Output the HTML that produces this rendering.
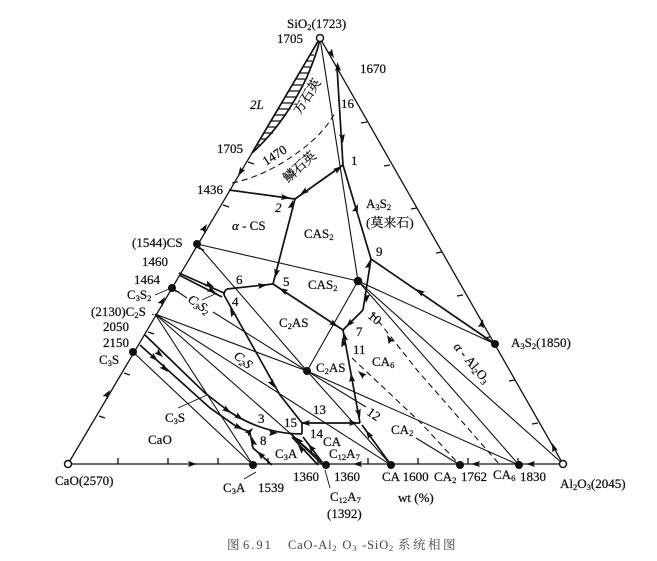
<!DOCTYPE html>
<html><head><meta charset="utf-8"><style>
html,body{margin:0;padding:0;background:#fff}
svg{display:block}
text{font-family:"Liberation Serif","Noto Serif CJK SC",serif;font-size:13px;fill:#111;stroke:#111;stroke-width:.25}
.s{font-size:8.5px}
.c{fill:#444;stroke:none;font-size:12.5px}
</style></head><body>
<svg width="657" height="561" viewBox="0 0 657 561" xmlns="http://www.w3.org/2000/svg">
<defs>
<marker id="a" markerWidth="10" markerHeight="7" refX="9" refY="3" orient="auto" markerUnits="userSpaceOnUse"><path d="M0 0L9 3L0 6L1.5 3Z" fill="#111"/></marker>
</defs>
<!-- triangle -->
<g fill="none" stroke="#111" stroke-width="1.3">
<path d="M320 38L68 464L563 464Z"/>
<path d="M118 464v-6M168 464v-6M218 464v-6M268 464v-6M318 464v-6M368 464v-6M418 464v-6M468 464v-6M518 464v-6"/>
<path d="M99 416l6 2M124 373l6 2M148 332l6 2M173 290l6 2M198 248l6 2M223 205l6 2M248 162l6 2"/>
<path d="M538 423l-6 1M515 380l-6 1M490 337l-6 1M463 295l-6 1M442 252l-6 1M417 208l-6 1M390 165l-6 1M367 122l-6 1"/>
</g>
<!-- thin tie lines -->
<g fill="none" stroke="#111" stroke-width="1.1">
<path d="M320 38L358 281"/>
<path d="M197 244L358 281"/>
<path d="M197 244L307 371"/>
<path d="M358 281L307 371"/>
<path d="M358 281L495 344"/>
<path d="M358 281L519 465"/>
<path d="M358 281L563 464"/>
<path d="M172 288L187 298M213 312L307 371"/>
<path d="M155 314L307 371"/>
<path d="M155 314L391 465"/>
<path d="M155 314L326 465"/>
<path d="M155 314L253 465"/>
<path d="M133 352L253 465"/>
<path d="M307 371L391 465"/>
<path d="M307 371L519 465"/>
<path d="M307 371L366 407M416 438L460 465"/>
</g>
<!-- dashed -->
<g fill="none" stroke="#111" stroke-width="1.1" stroke-dasharray="6 4">
<path d="M232 183C258 178 285 163 305 147C320 135 328 125 335 113"/>
<path d="M372 313L417 370L500 465"/>
<path d="M352 358L420 422L458 463"/>
</g>
<!-- lens -->
<path d="M320 38L252 153C270 137 290 112 307 77C313 62 318 50 320 38Z" fill="#fff" stroke="#111" stroke-width="1.7"/>
<g stroke="#111" stroke-width="1.2">
<path d="M310 55H314M306 61H312M303 67H310M299 73H308M296 79H305M292 85H302M289 91H299M285 97H296M282 103H293M278 109H290.5M274 115H286M271 121H281M267 127H276M264 133H273M260 139H266M257 145H261"/>
</g>
<!-- heavy boundaries -->
<g fill="none" stroke="#111" stroke-width="1.7">
<path d="M337 67L343 165"/>
<path d="M343 165L371 259"/>
<path d="M343 165L295 199"/>
<path d="M229 190L295 199"/>
<path d="M295 199L273 284"/>
<path d="M227 289L273 284"/>
<path d="M179 273L224 293"/>
<path d="M179 275L222 297"/>
<path d="M227 289Q224 291 224 295"/>
<path d="M224 295L280 395L302 423"/>
<path d="M273 284L343 330"/>
<path d="M371 259L363 310"/>
<path d="M363 310L343 330"/>
<path d="M371 259L495 344"/>
<path d="M343 330L360 423"/>
<path d="M302 423L360 423"/>
<path d="M391 465L362 425"/>
<path d="M302 423L302 434"/>
<path d="M145 335L205 393L227 410Q262 434 302 434"/>
<path d="M140 345L210 408L237 427L250 432"/>
<path d="M250 433L253 448L272 465"/>
<path d="M290 433L323 465"/>
<path d="M292 437L318 465"/>
<path d="M303 437L322 462"/>
</g>
<!-- arrows: start -> tip -->
<g fill="none" stroke="none">
<path d="M185 464H197" marker-end="url(#a)"/>
<path d="M105 398L110 390" marker-end="url(#a)"/>
<path d="M160 305L165 297" marker-end="url(#a)"/>
<path d="M202 232L207 224" marker-end="url(#a)"/>
<path d="M243 168L238 176" marker-end="url(#a)"/>
<path d="M328 48L334 58" marker-end="url(#a)"/>
<path d="M338 70L337.4 62" marker-end="url(#a)"/>
<path d="M342 135L343 143" marker-end="url(#a)"/>
<path d="M334 172L342 166" marker-end="url(#a)"/>
<path d="M308 189L300 195" marker-end="url(#a)"/>
<path d="M281 197L290 198" marker-end="url(#a)"/>
<path d="M291 208L293 200" marker-end="url(#a)"/>
<path d="M277 270L275 278" marker-end="url(#a)"/>
<path d="M258 286L267 285" marker-end="url(#a)"/>
<path d="M205 283L214 287" marker-end="url(#a)"/>
<path d="M207 288L216 293" marker-end="url(#a)"/>
<path d="M234 316L230 308" marker-end="url(#a)"/>
<path d="M270 380L275 388" marker-end="url(#a)"/>
<path d="M286 292L279 288" marker-end="url(#a)"/>
<path d="M331 322L338 327" marker-end="url(#a)"/>
<path d="M355 212L358 204" transform="translate(0 0)" marker-end="url(#a)"/>
<path d="M368 268L370 260" marker-end="url(#a)"/>
<path d="M367 295L366 303" marker-end="url(#a)"/>
<path d="M352 321L346 327" marker-end="url(#a)"/>
<path d="M345 340L343.5 332" marker-end="url(#a)"/>
<path d="M344 346L342 338" marker-end="url(#a)"/>
<path d="M352 381L351 373" marker-end="url(#a)"/>
<path d="M358 410L360 418" marker-end="url(#a)"/>
<path d="M365 377L358 371" marker-end="url(#a)"/>
<path d="M392 344L387 335" marker-end="url(#a)"/>
<path d="M423 294L416 289" marker-end="url(#a)"/>
<path d="M481 327L483 319" marker-end="url(#a)" />
<path d="M555 451L552 443" marker-end="url(#a)"/>
<path d="M309 423L301 423" marker-end="url(#a)"/>
<path d="M350 423L358 423" marker-end="url(#a)"/>
<path d="M371 438L366 430" marker-end="url(#a)"/>
<path d="M270 433L278 433" marker-end="url(#a)"/>
<path d="M156 351L163 357" marker-end="url(#a)"/>
<path d="M151 355L158 361" marker-end="url(#a)"/>
<path d="M161 365L168 372" marker-end="url(#a)"/>
<path d="M224 408L231 413" marker-end="url(#a)"/>
<path d="M236 415L243 420" marker-end="url(#a)"/>
<path d="M236 426L243 429" marker-end="url(#a)"/>
<path d="M247 434L253 428" marker-end="url(#a)"/>
<path d="M254 445L252 437" marker-end="url(#a)"/>
<path d="M263 457L257 451" marker-end="url(#a)"/>
<path d="M314 451L308 444" marker-end="url(#a)"/>
<path d="M301 443L295 437" marker-end="url(#a)"/>
<path d="M304 452L298 445" marker-end="url(#a)"/>
<path d="M362 464H353" marker-end="url(#a)"/>
<path d="M480 464H471" marker-end="url(#a)"/>
<path d="M535 464H526" marker-end="url(#a)"/>
</g>
<!-- leaders -->
<g stroke="#111" stroke-width=".9" fill="none">
<path d="M155 295L169 289M202 300L217 293M178 408L207 395M244 479L256 472M325 470L330 488M152 314L154 315"/>
</g>
<!-- nodes -->
<g fill="#111">
<circle cx="197" cy="244" r="4"/><circle cx="172" cy="288" r="4"/><circle cx="133" cy="352" r="4"/>
<circle cx="358" cy="281" r="4.3"/><circle cx="307" cy="371" r="4"/><circle cx="495" cy="344" r="4"/>
<circle cx="253" cy="465" r="4"/><circle cx="326" cy="465" r="4"/><circle cx="391" cy="465" r="4"/>
<circle cx="460" cy="465" r="4"/><circle cx="519" cy="465" r="4"/>
</g>
<g fill="#fff" stroke="#111" stroke-width="1.5">
<circle cx="320" cy="38" r="3.5"/><circle cx="68" cy="464" r="3.5"/><circle cx="563" cy="464" r="3.5"/>
</g>
<!-- labels -->
<text x="287" y="28">SiO<tspan class="s" dy="2">2</tspan><tspan dy="-2">(1723)</tspan></text>
<text x="277" y="43">1705</text>
<text x="360" y="73">1670</text>
<text x="341" y="108">16</text>
<text x="351" y="165">1</text>
<text x="250" y="109" font-style="italic">2L</text>
<text x="217" y="153">1705</text>
<text x="197" y="194">1436</text>
<text transform="translate(266 166) rotate(-33)">1470</text>
<text transform="translate(300 115) rotate(-57)">方石英</text>
<text transform="translate(288 183) rotate(-42)">鳞石英</text>
<text x="232" y="230"><tspan font-style="italic">α</tspan> - CS</text>
<text x="275" y="212" font-style="italic">2</text>
<text x="304" y="238">CAS<tspan class="s" dy="2">2</tspan></text>
<text x="366" y="208">A<tspan class="s" dy="2">3</tspan><tspan dy="-2">S</tspan><tspan class="s" dy="2">2</tspan></text>
<text x="366" y="227">(莫来石)</text>
<text x="376" y="256">9</text>
<text x="308" y="289">CAS<tspan class="s" dy="2">2</tspan></text>
<text x="132" y="247">(1544)CS</text>
<text x="142" y="266">1460</text>
<text x="134" y="284">1464</text>
<text x="127" y="299">C<tspan class="s" dy="2">3</tspan><tspan dy="-2">S</tspan><tspan class="s" dy="2">2</tspan></text>
<text x="91" y="316">(2130)C<tspan class="s" dy="2">2</tspan><tspan dy="-2">S</tspan></text>
<text x="103" y="331">2050</text>
<text x="103" y="347">2150</text>
<text x="99" y="364">C<tspan class="s" dy="2">3</tspan><tspan dy="-2">S</tspan></text>
<text x="236" y="284">6</text>
<text x="283" y="286">5</text>
<text x="232" y="306">4</text>
<text transform="translate(187 301) rotate(35)" font-style="italic">C<tspan class="s" dy="2">3</tspan><tspan dy="-2">S</tspan><tspan class="s" dy="2">2</tspan></text>
<text transform="translate(233 357) rotate(40)" font-style="italic">C<tspan class="s" dy="2">2</tspan><tspan dy="-2">S</tspan></text>
<text x="279" y="327">C<tspan class="s" dy="2">2</tspan><tspan dy="-2">AS</tspan></text>
<text x="316" y="372">C<tspan class="s" dy="2">2</tspan><tspan dy="-2">AS</tspan></text>
<text x="356" y="336">7</text>
<text transform="translate(367 317) rotate(40)">10</text>
<text x="353" y="354">11</text>
<text x="372" y="366">CA<tspan class="s" dy="2">6</tspan></text>
<text transform="translate(366 414) rotate(35)">12</text>
<text x="313" y="414">13</text>
<text x="391" y="434">CA<tspan class="s" dy="2">2</tspan></text>
<text transform="translate(453 347) rotate(50)"><tspan font-style="italic">α</tspan> - Al<tspan class="s" dy="2">2</tspan><tspan dy="-2">O</tspan><tspan class="s" dy="2">3</tspan></text>
<text x="511" y="347">A<tspan class="s" dy="2">3</tspan><tspan dy="-2">S</tspan><tspan class="s" dy="2">2</tspan><tspan dy="-2">(1850)</tspan></text>
<text x="258" y="423">3</text>
<text x="284" y="427">15</text>
<text x="260" y="445">8</text>
<text x="310" y="438">14</text>
<text x="323" y="446">CA</text>
<text x="275" y="458">C<tspan class="s" dy="2">3</tspan><tspan dy="-2">A</tspan></text>
<text x="329" y="458">C<tspan class="s" dy="2">12</tspan><tspan dy="-2">A</tspan><tspan class="s" dy="2">7</tspan></text>
<text x="148" y="444">CaO</text>
<text x="165" y="422">C<tspan class="s" dy="2">3</tspan><tspan dy="-2">S</tspan></text>
<text x="55" y="485">CaO(2570)</text>
<text x="223" y="492">C<tspan class="s" dy="2">3</tspan><tspan dy="-2">A</tspan></text>
<text x="258" y="492">1539</text>
<text x="293" y="481">1360</text>
<text x="334" y="481">1360</text>
<text x="382" y="481">CA 1600</text>
<text x="434" y="481">CA<tspan class="s" dy="2">2</tspan></text>
<text x="461" y="481">1762</text>
<text x="493" y="479">CA<tspan class="s" dy="2">6</tspan></text>
<text x="520" y="481">1830</text>
<text x="398" y="502">wt (%)</text>
<text x="330" y="501">C<tspan class="s" dy="2">12</tspan><tspan dy="-2">A</tspan><tspan class="s" dy="2">7</tspan></text>
<text x="327" y="518">(1392)</text>
<text x="560" y="488">Al<tspan class="s" dy="2">2</tspan><tspan dy="-2">O</tspan><tspan class="s" dy="2">3</tspan><tspan dy="-2">(2045)</tspan></text>
<text class="c" x="227" y="549">图</text>
<text class="c" x="243" y="549" letter-spacing="2">6.91</text>
<text class="c" x="288" y="549" letter-spacing=".8">CaO-Al<tspan class="s" dy="2">2</tspan><tspan dy="-2" dx="1"> O</tspan><tspan class="s" dy="2">3</tspan><tspan dy="-2" dx="1"> -SiO</tspan><tspan class="s" dy="2">2</tspan></text>
<text class="c" x="398" y="549" letter-spacing="2.5">系统相图</text>
</svg>
</body></html>
